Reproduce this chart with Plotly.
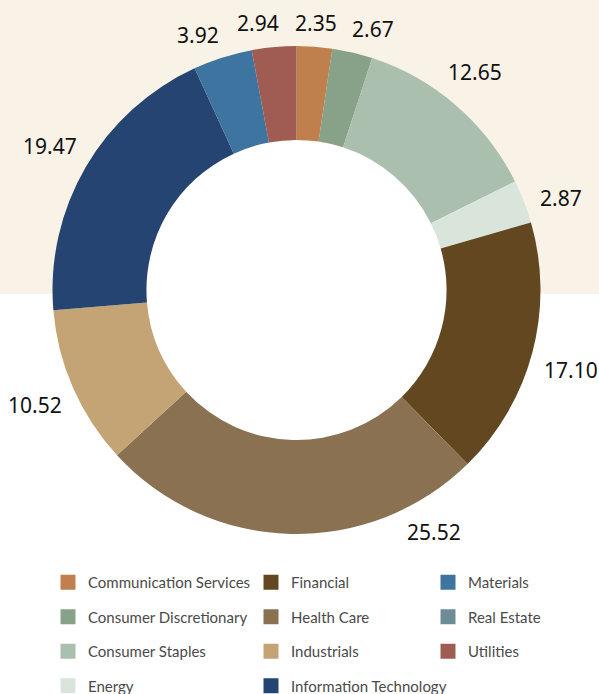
import math
import plotly.graph_objects as go

categories = ["Communication Services", "Consumer Discretionary", "Consumer Staples", "Energy",
              "Financial", "Health Care", "Industrials", "Information Technology",
              "Materials", "Real Estate", "Utilities"]
values = [2.35, 2.67, 12.65, 2.87, 17.10, 25.52, 10.52, 19.47, 3.92, 0.0, 2.94]
colors = ["#c0804e", "#87a288", "#abbfaf", "#d9e4da", "#624721", "#8a7152",
          "#c4a474", "#254471", "#3e74a0", "#6e8c96", "#a05c52"]

# label layout tweaks (degrees of rotation applied to a label around the pie centre,
# used to keep neighbouring outside labels apart as in the original layout)
label_nudge_deg = {"Consumer Discretionary": 3.0, "Materials": -3.5, "Utilities": -3.0,
                   "Health Care": -31.0, "Energy": 2.0, "Financial": 1.5, "Consumer Staples": -1.5}

W, H = 599, 694
cx, cy, R = 296.5, 290, 244   # pie centre / outer radius in px
hole = 0.615
label_font = 21
gap = 13

dom_x = [(cx - R) / W, (cx + R) / W]
dom_y = [(H - cy - R) / H, (H - cy + R) / H]

fig = go.Figure()
fig.add_trace(go.Pie(
    labels=categories, values=values, sort=False, direction="clockwise", rotation=0,
    hole=hole, marker=dict(colors=colors, line=dict(width=0)),
    textinfo="none", showlegend=False, domain=dict(x=dom_x, y=dom_y),
    hoverinfo="label+value",
))

# outside value labels, placed from the slice mid-angles
total = sum(values)
start = 0.0
annotations = []
for c, v in zip(categories, values):
    if v > 0:
        theta = math.radians(360.0 * (start + v / 2) / total + label_nudge_deg.get(c, 0.0))
        ux, uy = math.sin(theta), math.cos(theta)
        txt = f"{v:.2f}"
        tw = label_font * sum(0.268 if ch == "." else 0.572 for ch in txt)
        rho = R + gap + (tw / 2) * abs(ux) + 9.5 * abs(uy)
        annotations.append(dict(
            x=(cx + rho * ux) / W, y=(H - cy + rho * uy) / H, xref="paper", yref="paper",
            text=txt, showarrow=False, xanchor="center", yanchor="middle",
            font=dict(family="Noto Sans", size=label_font, color="#111111"),
        ))
    start += v

legend_names = ["legend", "legend2", "legend3"]
for i, (c, col) in enumerate(zip(categories, colors)):
    fig.add_trace(go.Scatter(
        x=[None], y=[None], mode="markers", name=c,
        marker=dict(symbol="square", size=15, color=col),
        legend=legend_names[i // 4], legendgroup=c, showlegend=True,
    ))

leg_common = dict(font=dict(family="Lato", size=15, color="#4a4a4a"), bgcolor="rgba(0,0,0,0)",
                  yanchor="top", xanchor="left", tracegroupgap=12, orientation="v")
ly = (H - 566) / H
fig.update_layout(
    width=W, height=H, margin=dict(l=0, r=0, t=0, b=0, autoexpand=False),
    paper_bgcolor="white", plot_bgcolor="rgba(0,0,0,0)",
    xaxis=dict(visible=False), yaxis=dict(visible=False),
    legend=dict(x=48 / W, y=ly, **leg_common),
    legend2=dict(x=251 / W, y=ly, **leg_common),
    legend3=dict(x=428 / W, y=ly, **leg_common),
    annotations=annotations,
    shapes=[
        dict(type="rect", xref="paper", yref="paper", x0=0, x1=1, y0=(H - 294) / H, y1=1,
             fillcolor="#f9f2e7", line=dict(width=0), layer="below"),
        dict(type="circle", xref="paper", yref="paper",
             x0=(cx - R * hole) / W, x1=(cx + R * hole) / W,
             y0=(H - cy - R * hole) / H, y1=(H - cy + R * hole) / H,
             fillcolor="white", line=dict(width=0), layer="below"),
    ],
)
fig.write_html("out.html", config={"displayModeBar": False},
               post_script="document.body.style.margin='0px';")
